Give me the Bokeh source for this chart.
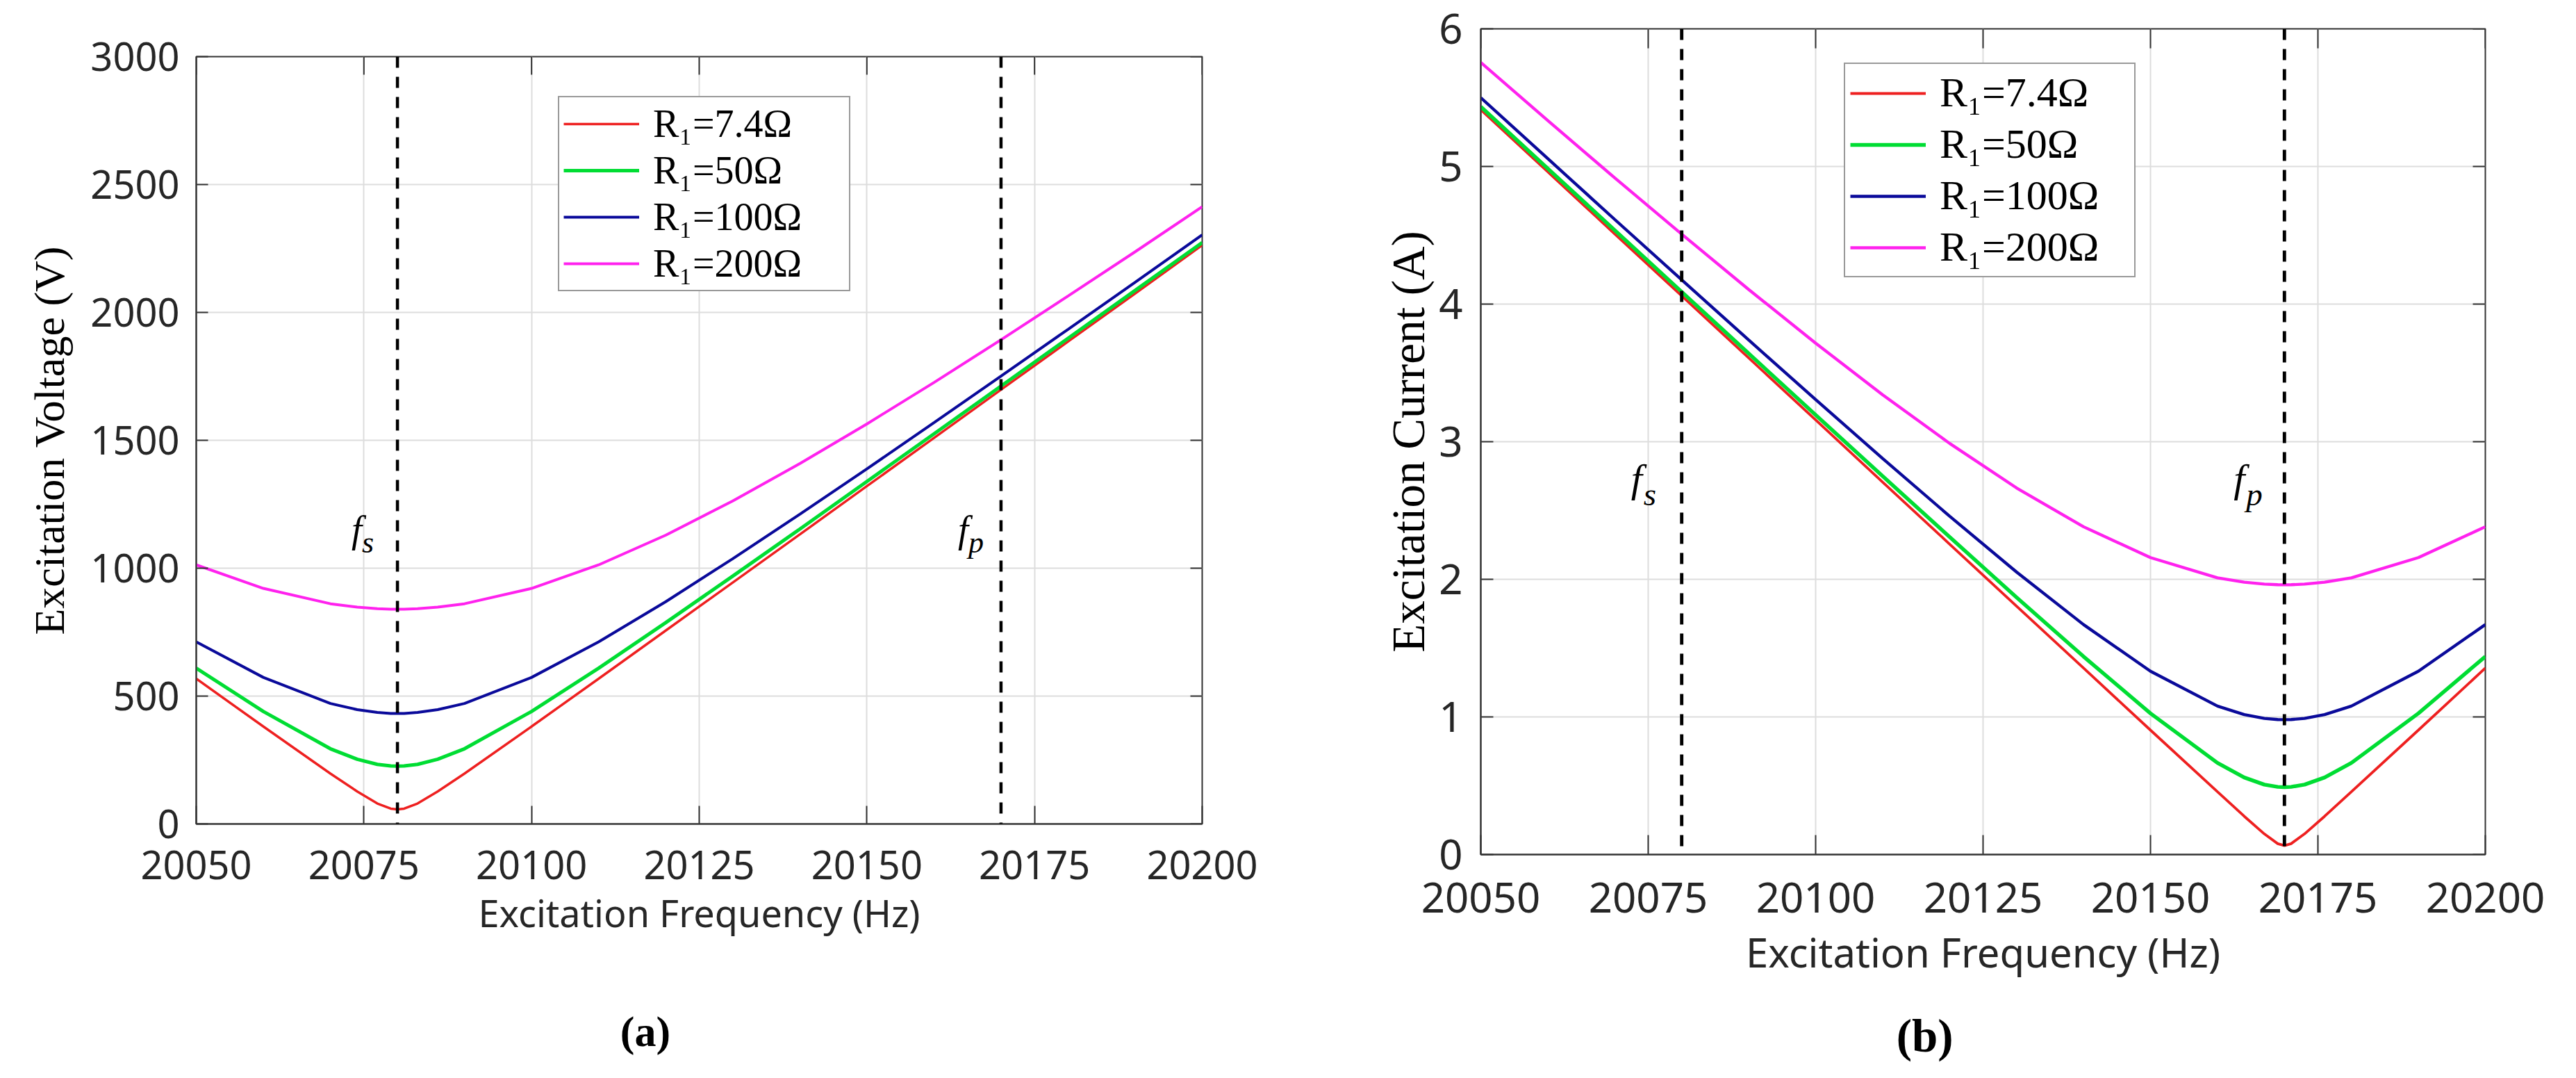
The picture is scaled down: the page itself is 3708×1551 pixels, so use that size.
import math
from bokeh.plotting import figure
from bokeh.models import FixedTicker, Legend, LegendItem, Label, Span, Range1d, LinearAxis
from bokeh.layouts import row, column
from bokeh.embed import file_html
from bokeh.resources import INLINE

# ---------------- data ----------------
freq_a = [20050, 20060, 20070, 20074, 20077, 20079, 20080, 20081, 20083, 20086, 20090,
          20100, 20110, 20120, 20130, 20140, 20150, 20160, 20170, 20180, 20190, 20200]
volt_r7 = [568, 381, 197, 127, 80, 60, 57, 60, 80, 127, 197,
           381, 568, 756, 944, 1132, 1321, 1509, 1698, 1886, 2074, 2263]
volt_r50 = [609, 440, 294, 253, 233, 227, 226, 227, 233, 253, 294,
            440, 609, 787, 969, 1153, 1339, 1525, 1712, 1899, 2086, 2273]
volt_r100 = [712, 573, 471, 447, 436, 432, 432, 432, 436, 447, 471,
             573, 712, 869, 1037, 1211, 1388, 1569, 1751, 1934, 2118, 2303]
volt_r200 = [1013, 921, 861, 848, 842, 840, 840, 840, 842, 848, 861,
             921, 1013, 1129, 1263, 1409, 1564, 1726, 1893, 2064, 2237, 2413]

freq_b = [20050, 20060, 20070, 20080, 20090, 20100, 20110, 20120, 20130, 20140, 20150,
          20160, 20164, 20167, 20169, 20170, 20171, 20173, 20176, 20180, 20190, 20200]
curr_r7 = [5.412, 4.961, 4.510, 4.060, 3.609, 3.158, 2.707, 2.256, 1.805, 1.355, 0.904,
           0.456, 0.278, 0.150, 0.079, 0.065, 0.079, 0.150, 0.278, 0.456, 0.904, 1.355]
curr_r50 = [5.434, 4.985, 4.537, 4.089, 3.641, 3.195, 2.750, 2.308, 1.869, 1.439, 1.026,
            0.666, 0.560, 0.508, 0.492, 0.490, 0.492, 0.508, 0.560, 0.666, 1.026, 1.439]
curr_r100 = [5.500, 5.057, 4.615, 4.176, 3.739, 3.306, 2.878, 2.459, 2.053, 1.671, 1.332,
             1.079, 1.017, 0.989, 0.981, 0.980, 0.981, 0.989, 1.017, 1.079, 1.332, 1.671]
curr_r200 = [5.756, 5.334, 4.917, 4.508, 4.106, 3.716, 3.341, 2.988, 2.664, 2.382, 2.158,
             2.011, 1.979, 1.965, 1.961, 1.960, 1.961, 1.965, 1.979, 2.011, 2.158, 2.382]

freq_ticks = [20050, 20075, 20100, 20125, 20150, 20175, 20200]
volt_ticks = [0, 500, 1000, 1500, 2000, 2500, 3000]
curr_ticks = [0, 1, 2, 3, 4, 5, 6]
f_series = 20080
f_parallel = 20170
series_labels = ["R\u2081=7.4\u03a9", "R\u2081=50\u03a9", "R\u2081=100\u03a9", "R\u2081=200\u03a9"]
series_colors = ["#ee2020", "#00dd33", "#0a0a9a", "#ff22ee"]
series_widths = [3.5, 5, 4, 4]
panel_tags = ["(a)", "(b)"]

SANS = "Noto Sans"
SERIF = "Liberation Serif"
TXT = "#262626"
EDGE = "#333333"
NBSP = "\u00a0"


def make_panel(frame, borders, yrange, yticks, ylabel, xs, ys_list, sc, st, lg, tag):
    fw, fh = frame
    bl, br, bt, bb = borders
    xr = (freq_ticks[0], freq_ticks[-1])
    p = figure(frame_width=fw, frame_height=fh, output_backend="svg", toolbar_location=None,
               x_range=Range1d(*xr), y_range=Range1d(*yrange),
               min_border_left=bl, min_border_right=br, min_border_top=bt, min_border_bottom=bb)
    p.background_fill_color = "white"
    p.border_fill_color = "white"
    p.outline_line_color = EDGE
    p.outline_line_width = 2
    p.xaxis.ticker = FixedTicker(ticks=freq_ticks)
    p.yaxis.ticker = FixedTicker(ticks=yticks)
    for ax in (p.xaxis[0], p.yaxis[0]):
        ax.major_tick_out = 0
        ax.minor_tick_line_color = None
        ax.axis_line_color = EDGE
        ax.axis_line_width = 2
        ax.major_tick_line_color = EDGE
        ax.major_tick_line_width = 2
        ax.major_label_text_font = SANS
        ax.major_label_text_color = TXT
        ax.major_label_text_font_size = "%dpx" % round(56 * sc)
        ax.axis_label_text_font_style = "normal"
        ax.axis_label_text_color = TXT
    xt_len = round(26 * sc)
    yt_len = round(17 * sc)
    p.xaxis.major_tick_in = xt_len
    p.yaxis.major_tick_in = yt_len
    p.xaxis.major_label_standoff = st["xl"]
    p.yaxis.major_label_standoff = round(24 * sc)
    p.xaxis.axis_label = "Excitation Frequency (Hz)"
    p.xaxis.axis_label_text_font = SANS
    p.xaxis.axis_label_text_font_size = "%dpx" % round(54 * sc)
    p.xaxis.axis_label_standoff = st["xt"]
    p.yaxis.axis_label = ylabel
    p.yaxis.axis_label_text_font = SERIF
    p.yaxis.axis_label_text_font_size = "%dpx" % round(62 * sc)
    p.yaxis.axis_label_standoff = st["yt"]
    p.yaxis.axis_label_text_color = "black"

    # panel tag "(a)" / "(b)" as the label of a bare axis below the frequency axis;
    # trailing no-break spaces move the centred label to the left
    tag_axis = LinearAxis(ticker=FixedTicker(ticks=[]),
                          axis_line_color=None, major_tick_line_color=None,
                          minor_tick_line_color=None, axis_label=tag + NBSP * st["pad_n"],
                          axis_label_text_font=SERIF, axis_label_text_font_style="bold",
                          axis_label_text_font_size="%dpx" % round(62 * sc),
                          axis_label_text_color="black", axis_label_standoff=st["tag_st"],
                          major_label_standoff=0, major_tick_in=0, major_tick_out=0)
    p.add_layout(tag_axis, "below")

    # box ticks on the top and right edges (MATLAB "box on")
    p.ray(x=freq_ticks, y=[yrange[1]] * len(freq_ticks), length=xt_len, length_units="screen",
          angle=-math.pi / 2, line_color=EDGE, line_width=2)
    p.ray(x=[xr[1]] * len(yticks), y=yticks, length=yt_len, length_units="screen",
          angle=math.pi, line_color=EDGE, line_width=2)

    p.xgrid.ticker = FixedTicker(ticks=freq_ticks)
    p.ygrid.ticker = FixedTicker(ticks=yticks)
    p.grid.grid_line_color = "#dddddd"
    p.grid.grid_line_width = 2

    renderers = []
    for ys, c, w in zip(ys_list, series_colors, series_widths):
        r = p.line(xs, ys, line_color=c, line_width=w * sc)
        renderers.append(r)

    for loc in (f_series, f_parallel):
        p.add_layout(Span(location=loc, dimension="height", line_color="black",
                          line_width=4.5 * sc, line_dash="16 13"))

    items = [LegendItem(label=l, renderers=[r]) for l, r in zip(series_labels, renderers)]
    legend = Legend(items=items, location=lg["loc"], orientation="vertical",
                    label_text_font=SERIF, label_text_font_size="%dpx" % lg["font"],
                    label_text_color="black",
                    glyph_width=109, glyph_height=20, label_height=20,
                    label_standoff=20, padding=lg["pad"], spacing=lg["sp"], margin=0,
                    label_width=lg["lw"],
                    border_line_color=EDGE, border_line_width=2,
                    background_fill_color="white", background_fill_alpha=1.0)
    p.add_layout(legend)
    return p


# ---------------- panel (a) ----------------
pa = make_panel((1448, 1104), (282, 160, 81, 60), (0, 3000), volt_ticks,
                "Excitation Voltage (V)", freq_a,
                [volt_r7, volt_r50, volt_r100, volt_r200], 1.0,
                dict(xl=38, xt=8, yt=22, pad_n=10, tag_st=97),
                dict(loc=(521, 766), font=56, pad=6, sp=3, lw=276), panel_tags[0])

# ---------------- panel (b) ----------------
pb = make_panel((1446, 1188), (241, 115, 41, 60), (0, 6), curr_ticks,
                "Excitation Current (A)", freq_b,
                [curr_r7, curr_r50, curr_r100, curr_r200], 1.08,
                dict(xl=40, xt=14, yt=4, pad_n=10, tag_st=41),
                dict(loc=(523, 830), font=60, pad=7, sp=5, lw=273), panel_tags[1])


def fl(p, x, y_main, y_sub, sub, off_f, off_s, fs_main, fs_sub):
    p.add_layout(Label(x=x, y=y_main, x_offset=off_f, text="f", text_font=SERIF,
                       text_font_style="italic", text_font_size="%dpx" % fs_main,
                       text_align="left", text_baseline="alphabetic", text_color="black"))
    p.add_layout(Label(x=x, y=y_sub, x_offset=off_s, text=sub, text_font=SERIF,
                       text_font_style="italic", text_font_size="%dpx" % fs_sub,
                       text_align="left", text_baseline="alphabetic", text_color="black"))


fl(pa, f_series, 1152, 1100, "s", -66, -51, 54, 44)
fl(pa, f_parallel, 1152, 1100, "p", -62, -47, 54, 44)
fl(pb, f_series, 2.73, 2.62, "s", -73, -55, 58, 47)
fl(pb, f_parallel, 2.73, 2.62, "p", -73, -55, 58, 47)

layout = row(pa, column(pb), spacing=0)
open("out.html", "w").write(file_html(layout, INLINE))
